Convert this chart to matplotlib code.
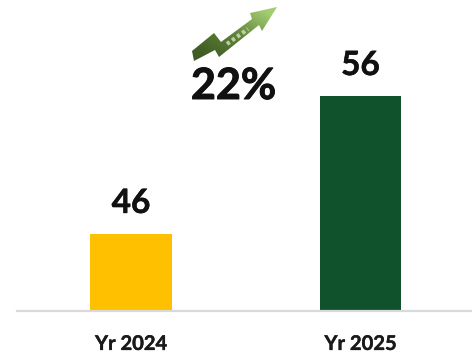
import matplotlib
matplotlib.use("Agg")
import matplotlib.pyplot as plt
import matplotlib.patheffects as pe
import numpy as np
from matplotlib.patches import Polygon

# Sales by year
years = ["Yr 2024", "Yr 2025"]
values = [46, 56]
bar_colors = ["#FFC000", "#10522B"]
growth_label = "22%"

W, H = 472, 356
plt.rcParams['font.family'] = ['Lato', 'DejaVu Sans']

fig = plt.figure(figsize=(W / 100, H / 100), dpi=100)
ax = fig.add_axes([17 / W, (H - 311) / H, (W - 17) / W, 311 / H])

ax.bar(years, values, width=0.357, color=bar_colors)
ax.set_xlim(-0.497, 1.486)
ax.set_ylim(40.4, 62.95)


def heavier(color, width):
    return [pe.withStroke(linewidth=width, foreground=color)]


for i, v in enumerate(values):
    ax.text(i, v + 1.15, str(v), ha='center', va='bottom', fontsize=24,
            fontweight='bold', color="#111111", path_effects=heavier("#111111", 0.4))

# only the baseline stays
for side in ['top', 'left', 'right']:
    ax.spines[side].set_visible(False)
ax.spines['bottom'].set_color("#D9D9D9")
ax.spines['bottom'].set_linewidth(1.6)
ax.set_yticks([])
ax.tick_params(axis='x', length=0, pad=16.5)
for lab in ax.get_xticklabels():
    lab.set_fontsize(14.5)
    lab.set_fontweight('bold')
    lab.set_color("#1A1A1A")
    lab.set_path_effects(heavier("#1A1A1A", 0.3))

# overlay in pixel coordinates for the growth arrow
over = fig.add_axes([0, 0, 1, 1], facecolor='none')
over.set_xlim(0, W)
over.set_ylim(H, 0)
over.axis('off')

arrow_pts = np.array([
    (192, 51), (214, 33), (221, 42), (252, 19), (250, 13), (277, 7),
    (262, 31), (259, 25), (219, 57), (215, 50), (194, 61),
])
arrow = Polygon(arrow_pts, closed=True, facecolor='none', edgecolor='none')
over.add_patch(arrow)

# green gradient running along the arrow, dark tail to light head
gx, gy = np.meshgrid(np.linspace(0, 1, 100), np.linspace(0, 1, 100))
grad = (gx + (1 - gy)) / 2
cmap = matplotlib.colors.LinearSegmentedColormap.from_list(
    "arrow", ["#3F5C24", "#5F8438", "#A4CC72"])
img = over.imshow(grad, extent=(192, 277, 61, 7), cmap=cmap, aspect='auto',
                  interpolation='bilinear', vmin=0.12, vmax=0.9)
img.set_clip_path(arrow)
over.set_xlim(0, W)
over.set_ylim(H, 0)

# light tick marks along the shaft
over.plot([227, 248], [44, 29], color="#DDE8CC", lw=3, ls=(0, (0.8, 0.7)), alpha=0.75)

over.text(233.5, 86, growth_label, ha='center', va='center', fontsize=31,
          fontweight='bold', color="#111111", path_effects=heavier("#111111", 0.7))

fig.savefig("out.png", dpi=100)
